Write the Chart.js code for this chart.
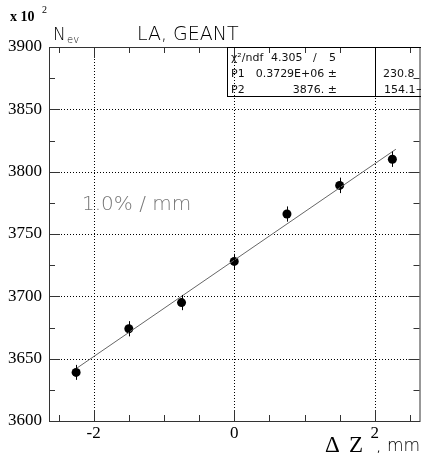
<!DOCTYPE html>
<html>
<head>
<meta charset="utf-8">
<script src="https://cdn.jsdelivr.net/npm/chart.js@4/dist/chart.umd.min.js"></script>
<style>
html, body { margin: 0; padding: 0; background: #fff; overflow: hidden; }
#wrap { width: 424px; height: 454px; }
</style>
</head>
<body>
<div id="wrap"><canvas id="chart" width="424" height="454"></canvas></div>
<script>
// measured points (x in mm, N in units of 10^2)
const dz = [-2.25, -1.5, -0.75, 0, 0.75, 1.5, 2.25];
const nev = [3639, 3674, 3695, 3728, 3766, 3789, 3810];
const nevErr = [6.0, 6.1, 6.1, 6.1, 6.1, 6.2, 6.2];

// fitted straight line, end points
const fitX = [-2.25, 2.3];
const fitY = [3642, 3818];

const xLabels = [-2, 0, 2];
const yLabels = [3600, 3650, 3700, 3750, 3800, 3850, 3900];

const statRows = [
    ["\u03c7\u00b2/ndf", "4.305", "/", "5"],
    ["P1", "0.3729E+06 \u00b1", "230.8"],
    ["P2", "3876. \u00b1", "154.1\u2212"]
];

var sans = '"DejaVu Sans", sans-serif';
var serif = '"Liberation Serif", serif';

var framePlugin = {
    id: 'frame',
    beforeDatasetsDraw: function(chart) {
        const c = chart.ctx;
        const a = chart.chartArea;
        const xs = chart.scales.x, ys = chart.scales.y;
        c.save();
        // dotted grid
        c.strokeStyle = '#000';
        c.lineWidth = 1;
        c.setLineDash([1, 2]);
        xLabels.forEach(v => {
            let px = Math.round(xs.getPixelForValue(v)) + 0.5;
            c.beginPath(); c.moveTo(px, a.top); c.lineTo(px, a.bottom); c.stroke();
        });
        yLabels.forEach(v => {
            if (v == 3600 || v == 3900) return;
            let py = Math.round(ys.getPixelForValue(v)) + 0.5;
            c.beginPath(); c.moveTo(a.left, py); c.lineTo(a.right, py); c.stroke();
        });
        c.setLineDash([]);
        // frame
        c.strokeStyle = '#333';
        c.strokeRect(a.left + 0.5, a.top + 0.5, a.right - a.left, a.bottom - a.top);
        // tick marks on all four sides
        c.beginPath();
        for (let v = -2.5; v <= 2.5; v += 0.5) {
            let px = Math.round(xs.getPixelForValue(v)) + 0.5;
            let len = (Math.abs(v % 2) < 1e-6) ? 11 : 6;
            c.moveTo(px, a.bottom); c.lineTo(px, a.bottom - len);
            c.moveTo(px, a.top); c.lineTo(px, a.top + len);
        }
        for (let v = 3625; v < 3900; v += 25) {
            let py = Math.round(ys.getPixelForValue(v)) + 0.5;
            let len = (v % 50 == 0) ? 11 : 6;
            c.moveTo(a.left, py); c.lineTo(a.left + len, py);
            c.moveTo(a.right, py); c.lineTo(a.right - len, py);
        }
        c.stroke();
        c.restore();
    },
    afterDatasetsDraw: function(chart) {
        const c = chart.ctx;
        const a = chart.chartArea;
        const xs = chart.scales.x, ys = chart.scales.y;
        c.save();
        // error bars
        c.strokeStyle = '#000';
        c.lineWidth = 1;
        c.beginPath();
        dz.forEach((x, i) => {
            let px = Math.round(xs.getPixelForValue(x)) + 0.5;
            c.moveTo(px, ys.getPixelForValue(nev[i] - nevErr[i]));
            c.lineTo(px, ys.getPixelForValue(nev[i] + nevErr[i]));
        });
        c.stroke();

        // fit statistics box
        let bx = 227.5, by = a.top + 0.5, bh = 49;
        let sep = Math.round(xs.getPixelForValue(2)) + 0.5;
        c.strokeStyle = '#000';
        c.strokeRect(bx, by, a.right - bx + 5, bh);
        c.beginPath(); c.moveTo(sep, by); c.lineTo(sep, by + bh); c.stroke();
        c.fillStyle = '#111';
        c.font = '11px ' + sans;
        c.textBaseline = 'alphabetic';
        c.textAlign = 'left';
        c.fillText(statRows[0][0], 231, 61);
        c.fillText(statRows[0][1], 271, 61);
        c.fillText(statRows[0][2], 313, 61);
        c.fillText(statRows[0][3], 329, 61);
        c.fillText(statRows[1][0], 231, 77);
        c.fillText(statRows[2][0], 231, 93);
        c.textAlign = 'right';
        c.fillText(statRows[1][1], 337, 77);
        c.fillText(statRows[2][1], 337, 93);
        c.textAlign = 'left';
        c.fillText(statRows[1][2], 383, 77);
        c.fillText(statRows[2][2], 384, 93);

        // titles and labels
        c.fillStyle = '#000';
        c.font = 'bold 14px ' + serif;
        c.fillText('x 10', 10, 21);
        c.font = '10px ' + serif;
        c.fillText('2', 42, 13);

        c.font = '200 17px ' + sans;
        c.fillText('N', 53, 40);
        c.font = '200 10px ' + sans;
        c.fillText('ev', 67, 43);

        c.font = '200 19px ' + sans;
        c.fillText('LA, GEANT', 137, 40);

        c.fillStyle = '#777';
        c.font = '200 20px ' + sans;
        c.fillText('1.0% / mm', 82, 210);

        c.fillStyle = '#000';
        c.font = '23px ' + serif;
        c.fillText('\u0394', 325, 452);
        c.fillText('Z', 349, 452);
        c.font = '10px ' + sans;
        c.fillText(',', 377, 452);
        c.font = '200 17px ' + sans;
        c.fillText('mm', 387, 451);
        c.restore();
    }
};

const ctx = document.getElementById('chart').getContext('2d');
var chart = new Chart(ctx, {
    type: 'scatter',
    data: {
        datasets: [{
            label: 'fit',
            data: fitX.map((x, i) => ({ x: x, y: fitY[i] })),
            showLine: true,
            borderColor: '#666',
            borderWidth: 1,
            pointRadius: 0
        }, {
            label: 'N_ev',
            data: dz.map((x, i) => ({ x: x, y: nev[i] })),
            pointRadius: 4.5,
            pointBackgroundColor: '#000',
            pointBorderColor: '#000',
            pointBorderWidth: 0
        }]
    },
    options: {
        responsive: false,
        animation: false,
        layout: { padding: { top: 47, right: 2, left: 0, bottom: 0 } },
        plugins: { legend: { display: false }, tooltip: { enabled: false } },
        scales: {
            x: {
                type: 'linear',
                min: -2.636,
                max: 2.636,
                grid: { display: false, drawTicks: false },
                border: { display: false },
                ticks: { color: '#000', font: { family: 'Liberation Serif', size: 17 }, padding: 2, maxRotation: 0, callback: v => '' + v },
                afterBuildTicks: s => { s.ticks = xLabels.map(v => ({ value: v })); },
                afterFit: s => { s.height = 33; }
            },
            y: {
                min: 3600,
                max: 3900,
                grid: { display: false, drawTicks: false },
                border: { display: false },
                ticks: { color: '#000', font: { family: 'Liberation Serif', size: 17 }, padding: 7, callback: v => '' + v },
                afterBuildTicks: s => { s.ticks = yLabels.map(v => ({ value: v })); },
                afterFit: s => { s.width = 49; }
            }
        }
    },
    plugins: [framePlugin]
});
</script>
</body>
</html>
